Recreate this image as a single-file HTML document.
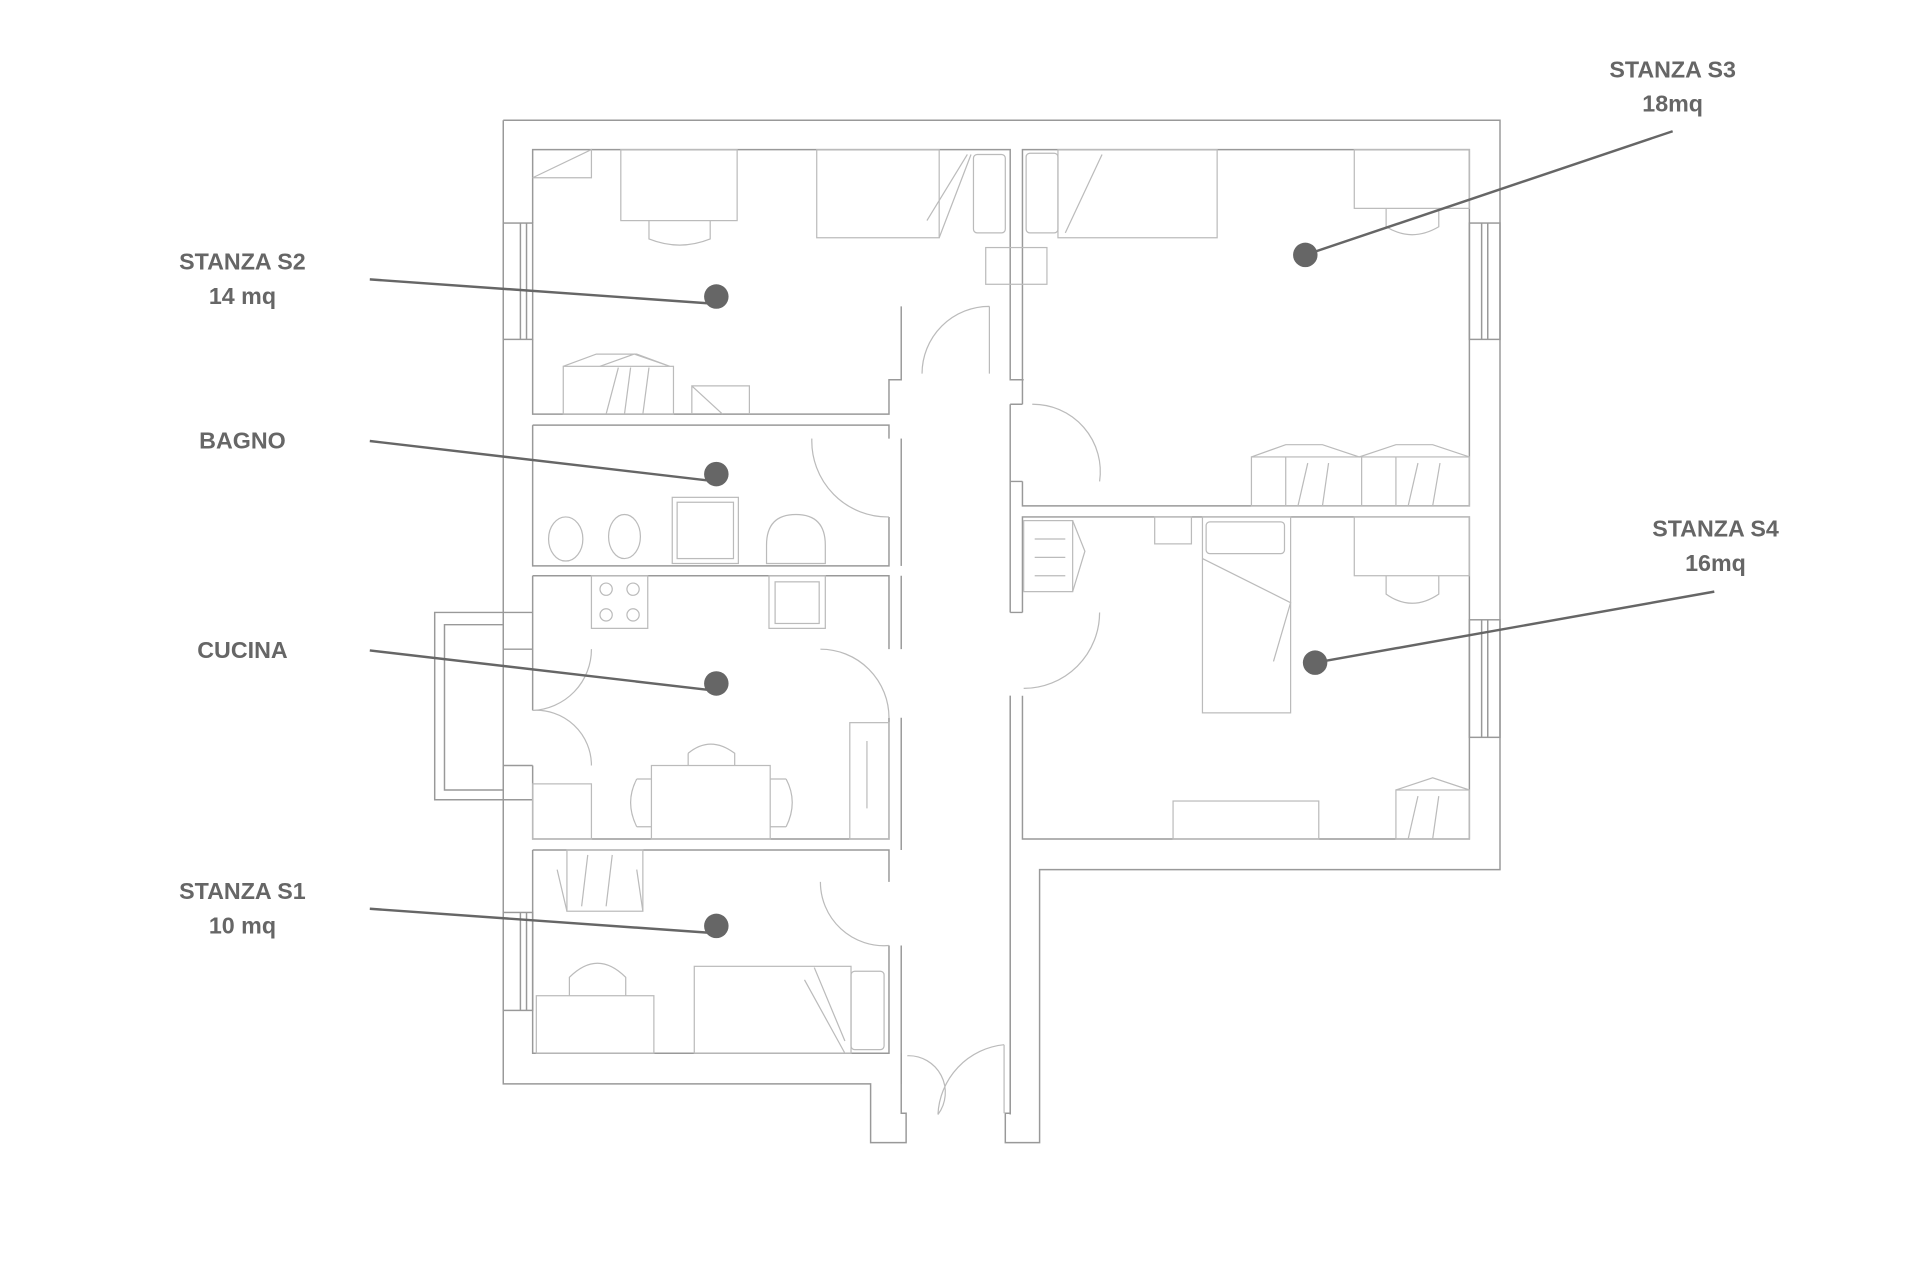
<!DOCTYPE html>
<html><head><meta charset="utf-8"><style>
html,body{margin:0;padding:0;background:#fff;}
svg{display:block}
text{font-family:"Liberation Sans",sans-serif;font-weight:bold;fill:#666;font-size:19px;text-anchor:middle}
</style></head><body>
<svg width="1920" height="1280" viewBox="0 0 1568 1045" xmlns="http://www.w3.org/2000/svg">
<rect width="1568" height="1045" fill="#fff"/>
<g fill="none" stroke="#999" stroke-width="1.2">
<path d="M411 98 H1225 V710 H849 V933 H821 V909 H825 V568"/>
<path d="M411 98 V885 H711 V933 H740 V909 H736 V860"/>
<path d="M435 182 V122 H825 V310 H836"/>
<path d="M435 277 V338 H726 V310 H736 V250"/>
<path d="M835 330 V122 H1200 V413 H835 V393"/>
<path d="M835 500 V422 H1200 V685 H835 V568"/>
<path d="M825 330 V500 M835 330 H825 M825 393 H835 M825 500 H835 M825 568 V910"/>
<path d="M435 347 H726 V358 M726 422 V462 H435 V347"/>
<path d="M736 358 V462"/>
<path d="M435 470 H726 V530 M726 586 V685 H435 V625 M435 580 V470"/>
<path d="M736 586 V694 M736 470 V530"/>
<path d="M435 694 H726 V720 M726 772 V860 H435 V694"/>
<path d="M736 772 V885"/>
<path d="M411 500 H435 M411 530 H435 M411 625 H435 M411 653 H435"/>
<path d="M411 500 H355 V653 H411 M411 510 H363 V645 H411"/>
<rect x="411" y="182" width="24" height="95"/><path d="M425 182 V277 M430 182 V277"/>
<rect x="1200" y="182" width="25" height="95"/><path d="M1210 182 V277 M1215 182 V277"/>
<rect x="1200" y="506" width="25" height="96"/><path d="M1210 506 V602 M1215 506 V602"/>
<rect x="411" y="745" width="24" height="80"/><path d="M425 745 V825 M430 745 V825"/>
</g>
<g fill="none" stroke="#bbb" stroke-width="1">
<path d="M808 250 A55 55 0 0 0 753 305 M808 250 V305"/>
<path d="M843 330 A55 55 0 0 1 898 393"/>
<path d="M663 358 A62 62 0 0 0 726 422"/>
<path d="M670 530 A56 56 0 0 1 726 586"/>
<path d="M483 530 A50 50 0 0 1 435 580 M435 580 A45 45 0 0 1 483 625"/>
<path d="M898 500 A62 62 0 0 1 836 562"/>
<path d="M670 720 A52 52 0 0 0 726 772"/>
<path d="M820 853 A60 60 0 0 0 766 910 M820 853 V909 M741 862 A30 30 0 0 1 766 910"/>
<path d="M435 145 H483 V122 L435 145"/>
<rect x="507" y="122" width="95" height="58"/>
<path d="M530 180 V195 Q555 205 580 195 V180"/>
<rect x="667" y="122" width="100" height="72"/>
<rect x="795" y="126" width="26" height="64" rx="3"/>
<path d="M767 194 L793 126 M757 180 L790 126"/>
<rect x="805" y="202" width="50" height="30"/>
<rect x="460" y="299" width="90" height="39"/><path d="M460 299 L487 289 L520 289 L547 299 M490 299 L518 289 L547 299 M495 338 L505 300 M510 338 L515 300 M525 338 L530 300"/>
<path d="M565 338 V315 H612 V338 M565 315 L590 338"/>
<rect x="838" y="125" width="26" height="65" rx="3"/>
<rect x="864" y="122" width="130" height="72"/><path d="M870 190 L900 126"/>
<rect x="1106" y="122" width="94" height="48"/><path d="M1132 170 V185 Q1153 198 1175 185 V170"/>
<rect x="1022" y="373" width="178" height="40"/><path d="M1022 373 L1050 363 L1080 363 L1110 373 L1140 363 L1170 363 L1200 373 M1050 373 V413 M1112 373 V413 M1140 373 V413 M1060 413 L1068 378 M1080 413 L1085 378 M1150 413 L1158 378 M1170 413 L1176 378"/>
<rect x="943" y="422" width="30" height="22"/>
<rect x="982" y="422" width="72" height="160"/><rect x="985" y="426" width="64" height="26" rx="3"/><path d="M982 456 L1054 492 L1040 540"/>
<rect x="1106" y="422" width="94" height="48"/><path d="M1132 470 V485 Q1153 500 1175 485 V470"/>
<rect x="836" y="425" width="40" height="58"/><path d="M876 425 L886 450 L876 483 M845 440 H870 M845 455 H870 M845 470 H870"/>
<rect x="958" y="654" width="119" height="31"/>
<rect x="1140" y="645" width="60" height="40"/><path d="M1140 645 L1170 635 L1200 645 M1150 685 L1158 650 M1170 685 L1175 650"/>
<ellipse cx="462" cy="440" rx="14" ry="18"/><ellipse cx="510" cy="438" rx="13" ry="18"/>
<rect x="549" y="406" width="54" height="54"/><rect x="553" y="410" width="46" height="46"/>
<path d="M626 445 Q626 420 650 420 Q674 420 674 445 V460 H626 Z"/>
<rect x="483" y="470" width="46" height="43"/><circle cx="495" cy="481" r="5"/><circle cx="517" cy="481" r="5"/><circle cx="495" cy="502" r="5"/><circle cx="517" cy="502" r="5"/>
<rect x="628" y="470" width="46" height="43"/><rect x="633" y="475" width="36" height="34"/>
<rect x="532" y="625" width="97" height="60"/>
<path d="M562 615 Q580 600 600 615 V625 M562 625 V615"/>
<path d="M520 636 Q510 655 520 675 M532 636 H520 M532 675 H520"/>
<path d="M642 636 Q652 655 642 675 M629 636 H642 M629 675 H642"/>
<rect x="694" y="590" width="32" height="95"/><path d="M708 605 V660"/>
<rect x="435" y="640" width="48" height="45"/>
<rect x="463" y="694" width="62" height="50"/><path d="M463 744 L455 710 M525 744 L520 710 M475 740 L480 698 M495 740 L500 698"/>
<rect x="438" y="813" width="96" height="47"/><path d="M465 813 V798 Q488 775 511 798 V813"/>
<rect x="567" y="789" width="128" height="71"/><rect x="695" y="793" width="27" height="64" rx="3"/><path d="M657 800 L690 860 M665 790 L690 850"/>
</g>
<g stroke="#666" stroke-width="2">
<line x1="302" y1="228" x2="585" y2="248"/>
<line x1="302" y1="360" x2="585" y2="393"/>
<line x1="302" y1="531" x2="585" y2="564"/>
<line x1="302" y1="742" x2="585" y2="762"/>
<line x1="1366" y1="107" x2="1066" y2="208"/>
<line x1="1400" y1="483" x2="1074" y2="541"/>
</g>
<g fill="#666">
<circle cx="585" cy="242" r="10"/>
<circle cx="585" cy="387" r="10"/>
<circle cx="585" cy="558" r="10"/>
<circle cx="585" cy="756" r="10"/>
<circle cx="1066" cy="208" r="10"/>
<circle cx="1074" cy="541" r="10"/>
</g>
<text x="198" y="220">STANZA S2</text><text x="198" y="248">14 mq</text>
<text x="198" y="366">BAGNO</text>
<text x="198" y="537">CUCINA</text>
<text x="198" y="734">STANZA S1</text><text x="198" y="762">10 mq</text>
<text x="1366" y="63">STANZA S3</text><text x="1366" y="91">18mq</text>
<text x="1401" y="438">STANZA S4</text><text x="1401" y="466">16mq</text>
</svg>
</body></html>
